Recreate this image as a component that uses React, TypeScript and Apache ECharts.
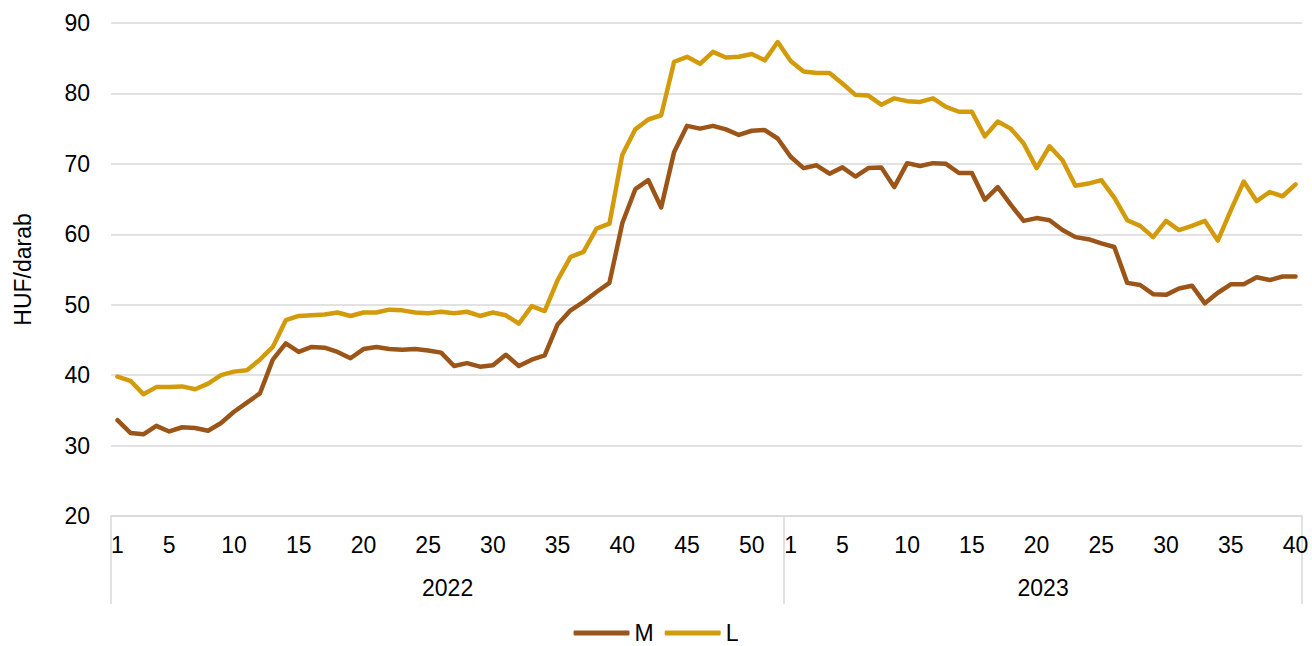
import React, { useEffect, useRef } from "react";
import * as echarts from "echarts";

const years = ["2022", "2023"];
const weeksPerYear = [52, 40];
const yTicks = { min: 20, max: 90, interval: 10 };

const seriesM = [
  33.6, 31.8, 31.6, 32.8, 32.0, 32.6, 32.5, 32.1, 33.2, 34.8,
  36.1, 37.4, 42.2, 44.5, 43.3, 44.0, 43.9, 43.3, 42.4, 43.7,
  44.0, 43.7, 43.6, 43.7, 43.5, 43.2, 41.3, 41.7, 41.2, 41.4,
  42.9, 41.3, 42.2, 42.8, 47.2, 49.2, 50.4, 51.8, 53.1, 61.6,
  66.4, 67.7, 63.8, 71.7, 75.4, 75.0, 75.4, 74.9, 74.1, 74.7,
  74.8, 73.6,
  71.0, 69.4, 69.8, 68.6, 69.5, 68.2, 69.4, 69.5, 66.7, 70.1,
  69.7, 70.1, 70.0, 68.7, 68.7, 64.9, 66.7, 64.2, 61.9, 62.3,
  62.0, 60.6, 59.6, 59.3, 58.7, 58.2, 53.1, 52.8, 51.5, 51.4,
  52.3, 52.7, 50.2, 51.7, 52.9, 52.9, 53.9, 53.5, 54.0, 54.0,
];

const seriesL = [
  39.8, 39.2, 37.3, 38.3, 38.3, 38.4, 38.0, 38.8, 40.0, 40.5,
  40.7, 42.2, 44.0, 47.8, 48.4, 48.5, 48.6, 48.9, 48.4, 48.9,
  48.9, 49.3, 49.2, 48.9, 48.8, 49.0, 48.8, 49.0, 48.4, 48.9,
  48.5, 47.3, 49.8, 49.1, 53.5, 56.8, 57.5, 60.8, 61.5, 71.3,
  74.9, 76.3, 76.9, 84.5, 85.2, 84.2, 85.9, 85.1, 85.2, 85.6,
  84.7, 87.3,
  84.6, 83.1, 82.9, 82.9, 81.4, 79.8, 79.7, 78.4, 79.3, 78.9,
  78.8, 79.3, 78.1, 77.4, 77.4, 73.9, 76.0, 75.0, 72.9, 69.4,
  72.5, 70.5, 66.9, 67.2, 67.7, 65.2, 62.0, 61.2, 59.6, 61.9,
  60.6, 61.2, 61.9, 59.1, 63.4, 67.5, 64.7, 66.0, 65.4, 67.1,
];

const seriesNames = ["M", "L"];
const colors = ["#9C5518", "#D39B0B"];
const yAxisName = "HUF/darab";

// categories like "2022-1"
const categories: string[] = [];
const weekOf: number[] = [];
years.forEach((y, yi) => {
  for (let w = 1; w <= weeksPerYear[yi]; w++) {
    categories.push(`${y}-${w}`);
    weekOf.push(w);
  }
});
const yearStarts: number[] = [];
const yearCenters: number[] = [];
{
  let acc = 0;
  weeksPerYear.forEach((n) => {
    yearStarts.push(acc);
    yearCenters.push(acc + n / 2);
    acc += n;
  });
}
const total = categories.length;

const FONT = "'Liberation Sans', Arial, sans-serif";
const FS = 23;

export default function App() {
  const ref = useRef<HTMLDivElement>(null);
  useEffect(() => {
    document.body.style.margin = "0";
    if (!ref.current) return;
    const chart = echarts.init(ref.current, undefined, { renderer: "svg" });
    chart.setOption({
      animation: false,
      textStyle: { fontFamily: FONT },
      grid: { left: 111, right: 10, top: 23, bottom: 130, containLabel: false },
      legend: {
        data: seriesNames,
        top: 621,
        left: "center",
        padding: 0,
        icon: "roundRect",
        itemWidth: 56,
        itemHeight: 5,
        itemGap: 11,
        textStyle: { fontSize: FS, lineHeight: 24, color: "#000", fontFamily: FONT },
      },
      xAxis: [
        {
          type: "category",
          data: categories,
          boundaryGap: true,
          axisLine: { show: true, lineStyle: { color: "#d9d9d9", width: 1.5 } },
          axisTick: {
            show: true,
            length: 88,
            interval: (idx: number) => yearStarts.includes(idx) || idx === total,
            lineStyle: { color: "#d9d9d9", width: 1.5 },
          },
          axisLabel: {
            interval: (idx: number) => weekOf[idx] === 1 || weekOf[idx] % 5 === 0,
            formatter: (_v: string, idx: number) => String(weekOf[idx]),
            fontSize: FS,
            color: "#000",
            margin: 17,
            fontFamily: FONT,
          },
          splitLine: { show: false },
        },
        {
          type: "value",
          min: 0,
          max: total,
          interval: 2,
          position: "bottom",
          offset: 43,
          axisLine: { show: false },
          axisTick: { show: false },
          splitLine: { show: false },
          axisLabel: {
            fontSize: FS,
            color: "#000",
            margin: 17,
            fontFamily: FONT,
            showMinLabel: true,
            showMaxLabel: true,
            formatter: (v: number) => {
              const k = yearCenters.indexOf(v);
              return k >= 0 ? years[k] : "";
            },
          },
        },
      ],
      yAxis: {
        type: "value",
        min: yTicks.min,
        max: yTicks.max,
        interval: yTicks.interval,
        name: yAxisName,
        nameLocation: "middle",
        nameGap: 77,
        nameRotate: 90,
        nameTextStyle: { fontSize: FS, color: "#000", fontFamily: FONT },
        axisLine: { show: false },
        axisTick: { show: false },
        axisLabel: { fontSize: FS, color: "#000", margin: 21, fontFamily: FONT },
        splitLine: { show: true, lineStyle: { color: "#d9d9d9", width: 1.5 } },
      },
      series: [
        {
          name: seriesNames[0],
          type: "line",
          data: seriesM,
          xAxisIndex: 0,
          symbol: "none",
          lineStyle: { color: colors[0], width: 4.5, join: "round", cap: "round" },
          itemStyle: { color: colors[0] },
        },
        {
          name: seriesNames[1],
          type: "line",
          data: seriesL,
          xAxisIndex: 0,
          symbol: "none",
          lineStyle: { color: colors[1], width: 4.5, join: "round", cap: "round" },
          itemStyle: { color: colors[1] },
        },
      ],
    });
    return () => chart.dispose();
  }, []);
  return <div ref={ref} style={{ width: 1312, height: 646 }} />;
}
